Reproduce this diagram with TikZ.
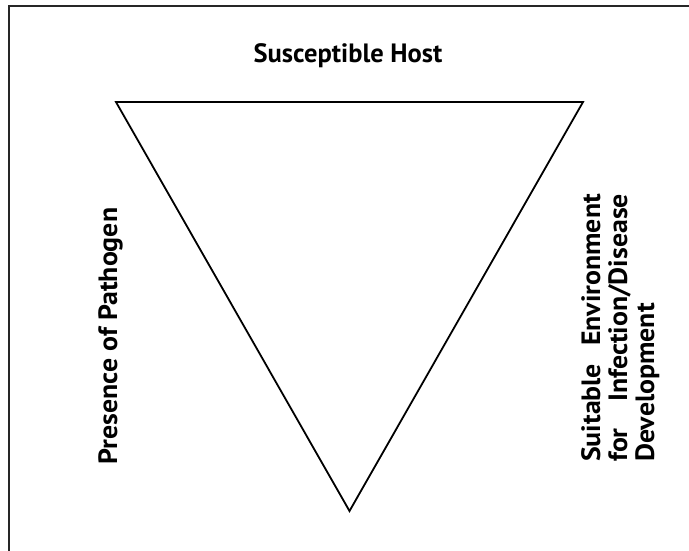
\documentclass[tikz,border=0pt]{standalone}
\usepackage{fontspec}
\usepackage{graphicx}
\setmainfont{PT Sans}
\newcommand{\wide}[2]{\scalebox{#1}[1]{#2}}
\begin{document}
\begin{tikzpicture}[x=1pt,y=-1pt,
  edge/.style={line width=1.8pt, line join=miter},
  lbl/.style={font=\bfseries\fontsize{26.5}{27}\selectfont, inner sep=0pt}]
\useasboundingbox (0,0) rectangle (689,550);
\draw[line width=2pt, black!85] (8.5,560) -- (8.5,5.5) -- (700,5.5);
\coordinate (tl) at (116,102);
\coordinate (tr) at (583,102);
\coordinate (bt) at (349.5,511);
\draw[edge] (tl) -- (tr) -- (bt) -- cycle;
\node[lbl, anchor=base] (host) at (348,62) {Susceptible Host};
\node[lbl, rotate=90, anchor=base] (path) at (117,336) {\wide{1.05}{Presence of Pathogen}};
\node[lbl, rotate=90, anchor=base west] (env1) at (600,462)
  {\wide{1.05}{\hbox to 255pt{Suitable\hfill Environment}}};
\node[lbl, rotate=90, anchor=base west] (env2) at (627,462)
  {\wide{1.05}{\hbox to 255pt{for\hfill Infection/Disease}}};
\node[lbl, rotate=90, anchor=base west] (env3) at (654,462)
  {\wide{1.05}{Development}};
\end{tikzpicture}
\end{document}
